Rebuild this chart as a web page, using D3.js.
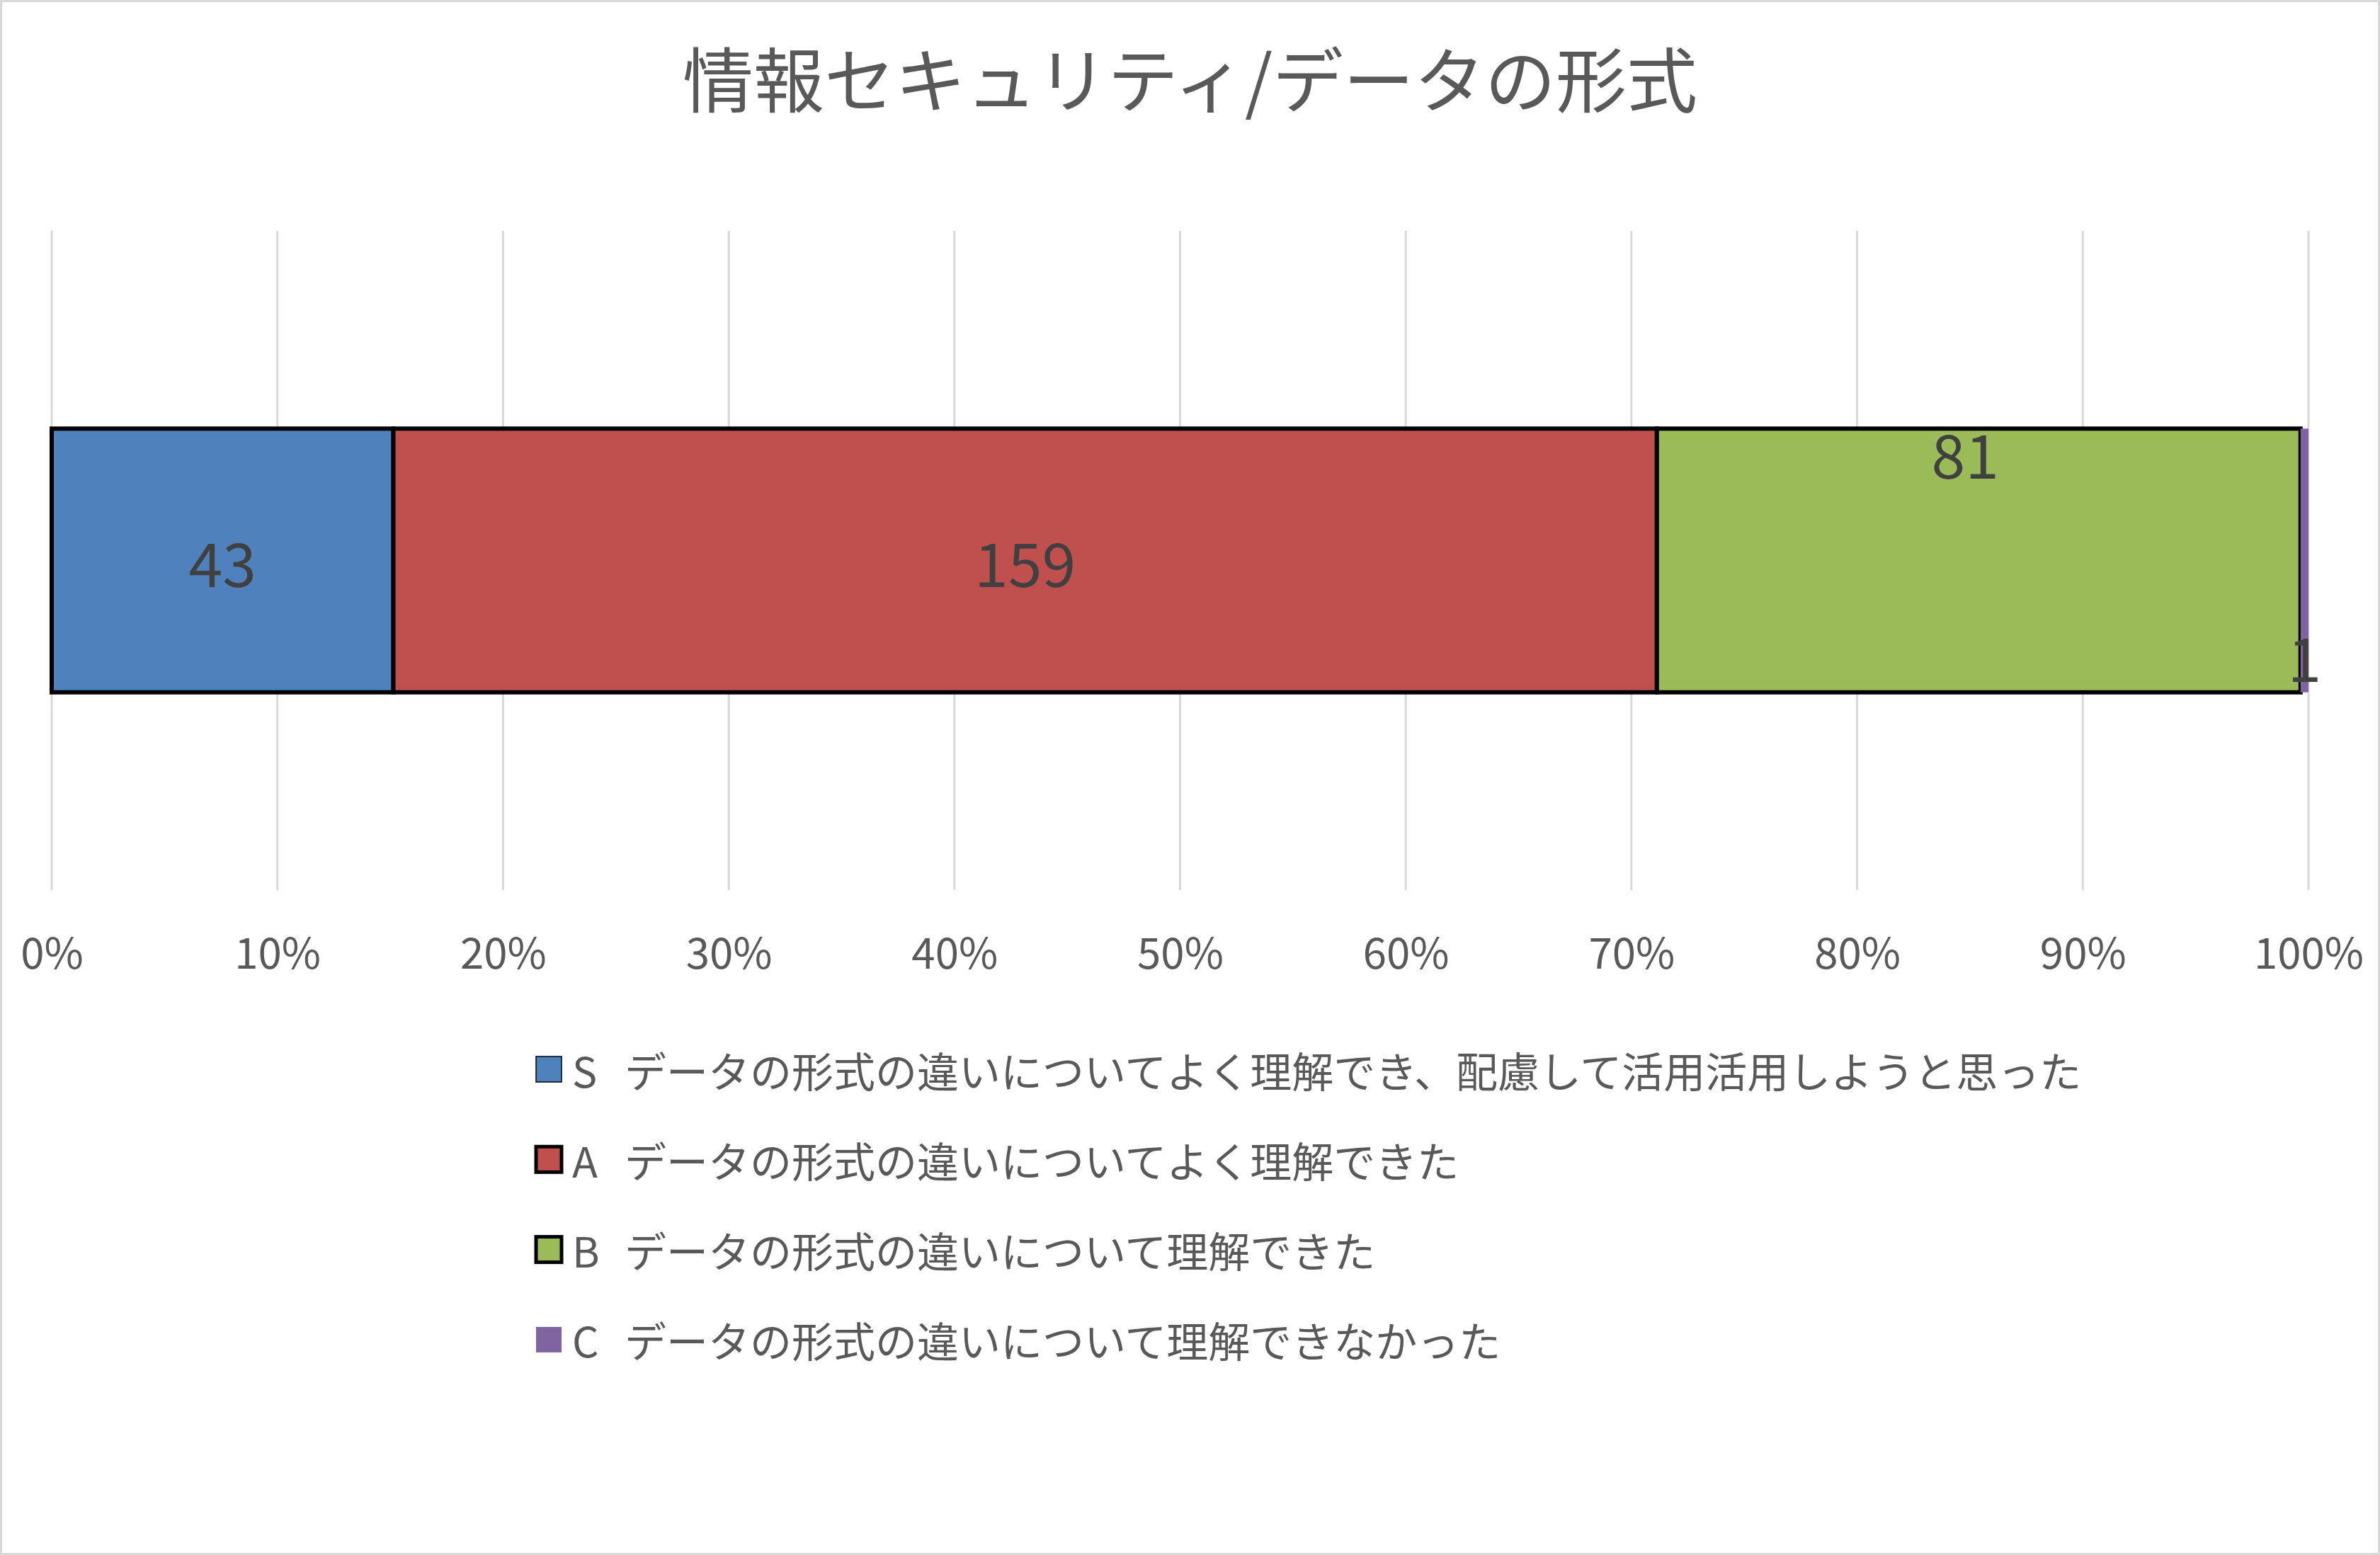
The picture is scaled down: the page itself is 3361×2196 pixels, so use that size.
<!DOCTYPE html>
<html><head><meta charset="utf-8">
<script src="https://cdn.jsdelivr.net/npm/d3@7"></script>
<style>html,body{margin:0;padding:0;background:#fff;}svg{display:block;}</style>
</head><body>
<script>
// ---- data ----
const title = "情報セキュリティ/データの形式";
const category = "情報セキュリティ/データの形式";
const seriesKeys = ["S", "A", "B", "C"];
const seriesDesc = [
  "データの形式の違いについてよく理解でき、配慮して活用活用しようと思った",
  "データの形式の違いについてよく理解できた",
  "データの形式の違いについて理解できた",
  "データの形式の違いについて理解できなかった"
];
const seriesValues = [43, 159, 81, 1];
const tickValues = [0, 0.1, 0.2, 0.3, 0.4, 0.5, 0.6, 0.7, 0.8, 0.9, 1.0];

// ---- style / layout ----
const W = 3361, H = 2196;
const colors = ["#4f81bd", "#c0504d", "#9bbb59", "#8064a2"];
const barStroke = [6, 6, 6, 0];
const legendStroke = [1.5, 5, 5, 0];
const labelShift = [[0, 0], [0, 0], [-19, -0.41], [0, 0.36]]; // dx px, dy as fraction of bar height
const FONT = "'Noto Sans CJK JP', 'Noto Sans', sans-serif";

const svg = d3.select("body").append("svg").attr("width", W).attr("height", H);
svg.append("rect").attr("x", 1.5).attr("y", 1.5).attr("width", W - 3).attr("height", H - 3)
  .attr("fill", "#fff").attr("stroke", "#d9d9d9").attr("stroke-width", 3);

const total = d3.sum(seriesValues);
let acc = 0;
const segs = seriesValues.map((v, i) => { const s = {i, v, x0: acc / total, x1: (acc + v) / total}; acc += v; return s; });

const x = d3.scaleLinear().domain([0, 1]).range([73, 3260]);
const y = d3.scaleBand().domain([category]).range([326, 1257]).paddingInner(0.6).paddingOuter(0.3);

// gridlines
svg.append("g").selectAll("line").data(tickValues).join("line")
  .attr("x1", d => x(d)).attr("x2", d => x(d)).attr("y1", 326).attr("y2", 1257)
  .attr("stroke", "#d9d9d9").attr("stroke-width", 3);

// axis
const axis = d3.axisBottom(x).tickValues(tickValues).tickFormat(d3.format(".0%")).tickSize(0).tickPadding(0);
const ag = svg.append("g").attr("transform", "translate(0,1341)").call(axis);
ag.select(".domain").remove();
ag.selectAll("text").attr("font-family", FONT).attr("font-size", 60).attr("fill", "#595959")
  .attr("dy", null).attr("dominant-baseline", "central");

// bars
const by = y(category), bh = y.bandwidth();
svg.append("g").selectAll("rect").data(segs).join("rect")
  .attr("x", d => x(d.x0)).attr("width", d => x(d.x1) - x(d.x0))
  .attr("y", by).attr("height", bh)
  .attr("fill", d => colors[d.i])
  .attr("stroke", d => barStroke[d.i] ? "#000" : "none")
  .attr("stroke-width", d => barStroke[d.i]);

// data labels
svg.append("g").selectAll("text").data(segs).join("text")
  .attr("x", d => (x(d.x0) + x(d.x1)) / 2 + labelShift[d.i][0])
  .attr("y", d => by + bh / 2 + labelShift[d.i][1] * bh)
  .attr("text-anchor", "middle").attr("dominant-baseline", "central")
  .attr("font-family", FONT).attr("font-size", 86).attr("fill", "#404040")
  .text(d => d.v);

// title
svg.append("text").attr("x", W / 2).attr("y", 107)
  .attr("text-anchor", "middle").attr("dominant-baseline", "central")
  .attr("font-family", FONT).attr("font-size", 100).attr("fill", "#595959")
  .text(title);

// legend
const lg = svg.append("g");
const rows = lg.selectAll("g").data(seriesKeys).join("g")
  .attr("transform", (d, i) => `translate(0,${1510 + i * 127.3})`);
rows.append("rect").attr("x", 757).attr("y", -18).attr("width", 36).attr("height", 36)
  .attr("fill", (d, i) => colors[i])
  .attr("stroke", (d, i) => legendStroke[i] ? "#000" : "none")
  .attr("stroke-width", (d, i) => legendStroke[i]);
rows.append("text").attr("x", 808).attr("y", 0).attr("dominant-baseline", "central")
  .attr("font-family", FONT).attr("font-size", 59).attr("fill", "#595959").text(d => d);
rows.append("text").attr("x", 882).attr("y", 0).attr("dominant-baseline", "central")
  .attr("font-family", FONT).attr("font-size", 59).attr("fill", "#595959").text((d, i) => seriesDesc[i]);
</script>
</body></html>
